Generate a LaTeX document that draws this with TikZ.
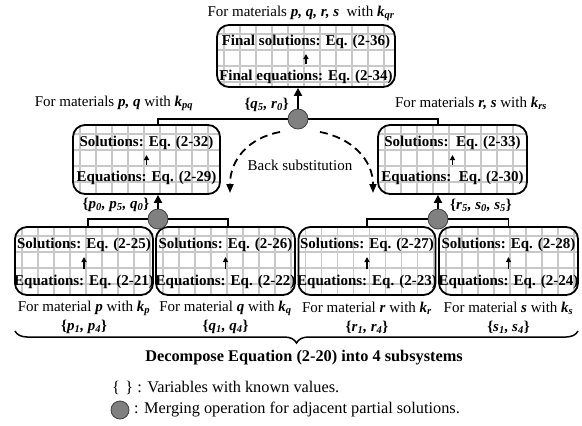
\documentclass[tikz,border=0pt]{standalone}
\usepackage{fontspec}
\setmainfont{Liberation Serif}
\usetikzlibrary{arrows.meta,decorations.pathreplacing,calc}
\newcommand{\bi}[1]{\textbf{\textit{#1}}}
\newcommand{\sbi}[1]{\textsubscript{\bi{#1}}}
\definecolor{gridc}{RGB}{200,200,200}
\definecolor{circc}{RGB}{128,128,128}
\tikzset{
  gridfill/.style={path picture={
    \foreach \k in {0,...,12}{
      \draw[gridc, line width=1.2pt] ($(path picture bounding box.north west)+(7+16*\k,0)$) -- ($(path picture bounding box.south west)+(7+16*\k,0)$);}
    \foreach \k in {0,...,4}{
      \draw[gridc, line width=1.2pt] ($(path picture bounding box.north west)+(0,9+16*\k)$) -- ($(path picture bounding box.north east)+(0,9+16*\k)$);}
  }},
  gbox/.style={draw, line width=1.8pt, rounded corners=12pt, gridfill},
  merge/.style={circle, draw=black!75, fill=circc, minimum size=20pt, line width=0.8pt},
  conn/.style={line width=1.8pt},
  uparrow/.style={line width=2.2pt, -{Triangle[length=8pt,width=8pt]}},
  smallarrow/.style={line width=1.2pt, -{Triangle[length=5pt,width=5pt]}, shorten <=6pt, shorten >=5pt},
  dasharrow/.style={line width=1.8pt, dash pattern=on 8pt off 5pt, -{Triangle[length=9pt,width=7pt]}},
  bigtext/.style={font=\fontsize{16.3}{19}\selectfont},
}
\begin{document}
\begin{tikzpicture}[x=1pt,y=-1pt, every node/.style={font=\fontsize{15}{17}\selectfont, inner sep=0pt}]
\useasboundingbox (0,0) rectangle (582,426);

% boxes
\node[gbox, minimum width=178pt, minimum height=62pt] (top) at (306,56) {};
\node[gbox, minimum width=147pt, minimum height=69pt] (midL) at (146.5,159.5) {};
\node[gbox, minimum width=149pt, minimum height=69pt] (midR) at (452.5,159.5) {};
\node[gbox, minimum width=138pt, minimum height=68pt] (b1) at (84,261) {};
\node[gbox, minimum width=139pt, minimum height=68pt] (b2) at (225.5,261) {};
\node[gbox, minimum width=137pt, minimum height=68pt] (b3) at (367,261) {};
\node[gbox, minimum width=139pt, minimum height=68pt] (b4) at (508.5,261) {};

% box texts
\node (topS) at (306,42) {\textbf{Final solutions: Eq. (2-36)}};
\node (topE) at (306,77) {\textbf{Final equations: Eq. (2-34)}};
\draw[smallarrow] (topE) -- (topS);
\node (mLS) at (146.5,143) {\textbf{Solutions: Eq. (2-32)}};
\node (mLE) at (146.5,178) {\textbf{Equations: Eq. (2-29)}};
\draw[smallarrow] (mLE) -- (mLS);
\node (mRS) at (452.5,143) {\textbf{Solutions:\ \ Eq. (2-33)}};
\node (mRE) at (452.5,178) {\textbf{Equations:\ \ Eq. (2-30)}};
\draw[smallarrow] (mRE) -- (mRS);
\node (b1S) at (84,245) {\textbf{Solutions: Eq. (2-25)}};
\node (b1E) at (84,282) {\textbf{Equations: Eq. (2-21)}};
\draw[smallarrow] (b1E) -- (b1S);
\node (b2S) at (225.5,245) {\textbf{Solutions: Eq. (2-26)}};
\node (b2E) at (225.5,282) {\textbf{Equations: Eq. (2-22)}};
\draw[smallarrow] (b2E) -- (b2S);
\node (b3S) at (367,245) {\textbf{Solutions: Eq. (2-27)}};
\node (b3E) at (367,282) {\textbf{Equations: Eq. (2-23)}};
\draw[smallarrow] (b3E) -- (b3S);
\node (b4S) at (508.5,245) {\textbf{Solutions: Eq. (2-28)}};
\node (b4E) at (508.5,282) {\textbf{Equations: Eq. (2-24)}};
\draw[smallarrow] (b4E) -- (b4S);

% merge circles
\node[merge] (c1) at (298,119) {};
\node[merge] (cL) at (158,219) {};
\node[merge] (cR) at (438,219) {};

\draw[conn] (c1) -| (cL |- midL.north);
\draw[conn] (c1) -| (cR |- midR.north);
\draw[conn] (cL) -| ([xshift=4pt]b1.north);
\draw[conn] (cL) -| ([xshift=2.5pt]b2.north);
\draw[conn] (cR) -| (b3.north);
\draw[conn] (cR) -| (b4.north);
\draw[uparrow] (c1) -- (c1 |- top.south);
\draw[uparrow] (cL) -- (cL |- midL.south);
\draw[uparrow] (cR) -- (cR |- midR.south);

% labels
\node (lqr) at (301,13) {For materials \bi{p, q, r, s}\ \ with \bi{k}\sbi{qr}};
\node (lpq) at (114,103) {For materials \bi{p, q} with \bi{k}\sbi{pq}};
\node (lrs) at (471,103) {For materials \bi{r, s} with \bi{k}\sbi{rs}};
\node[anchor=east] (vq) at (289,105) {\textbf{\{}\bi{q}\sbi{5}\bi{, r}\sbi{0}\textbf{\}}};
\node (vp) at (116,205) {\textbf{\{}\bi{p}\sbi{0}\bi{, p}\sbi{5}\bi{, q}\sbi{0}\textbf{\}}};
\node (vr) at (481,205) {\textbf{\{}\bi{r}\sbi{5}\bi{, s}\sbi{0}\bi{, s}\sbi{5}\textbf{\}}};

\node (cap1) at (84,308) {For material \bi{p} with \bi{k}\sbi{p}};
\node (cap2) at (225.5,308) {For material \bi{q} with \bi{k}\sbi{q}};
\node (cap3) at (367,308) {For material \bi{r} with \bi{k}\sbi{r}};
\node (cap4) at (508.5,308) {For material \bi{s} with \bi{k}\sbi{s}};
\node (v1) at (84,327) {\textbf{\{}\bi{p}\sbi{1}\bi{, p}\sbi{4}\textbf{\}}};
\node (v2) at (225.5,327) {\textbf{\{}\bi{q}\sbi{1}\bi{, q}\sbi{4}\textbf{\}}};
\node (v3) at (367,327) {\textbf{\{}\bi{r}\sbi{1}\bi{, r}\sbi{4}\textbf{\}}};
\node (v4) at (508.5,327) {\textbf{\{}\bi{s}\sbi{1}\bi{, s}\sbi{4}\textbf{\}}};

% back substitution
\coordinate (bsL0) at (280,132);
\coordinate (bsL1) at (230,193);
\coordinate (bsR0) at (320,132);
\coordinate (bsR1) at (373,193);
\draw[dasharrow] (bsL0) .. controls (248,138) and (230,160) .. (bsL1);
\draw[dasharrow] (bsR0) .. controls (352,138) and (373,160) .. (bsR1);
\node (bs) at (300,165) {Back substitution};

% brace
\coordinate (brR) at (578,331);
\coordinate (brL) at (15,331);
\draw[line width=1.5pt, decorate, decoration={brace, amplitude=12pt}] (brR) -- (brL);
\node[bigtext] (dec) at (304,358) {\textbf{Decompose Equation (2-20) into 4 subsystems}};

% legend
\node[bigtext, anchor=west] (leg1) at (112,388) {\{\,\,\} : Variables with known values.};
\node[merge, minimum size=18pt] (legc) at (120,410) {};
\node[bigtext, anchor=west] (leg2) at (134,410) {: Merging operation for adjacent partial solutions.};
\end{tikzpicture}
\end{document}
